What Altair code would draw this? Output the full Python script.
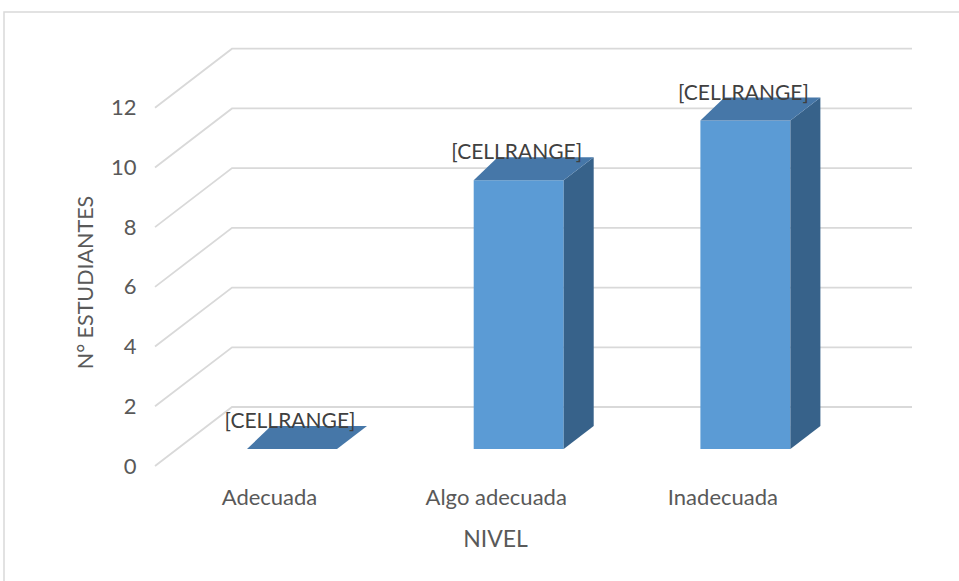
import json
import altair as alt
import pandas as pd

# ---------------- data ----------------
categories = ["Adecuada", "Algo adecuada", "Inadecuada"]
values = [0, 9, 11]
y_ticks = [0, 2, 4, 6, 8, 10, 12]
data_label = "[CELLRANGE]"
x_title = "NIVEL"
y_title = "N° ESTUDIANTES"

# ---------------- style / geometry ----------------
FONT = "Lato"
TXT = "#595959"
GRID = "#d9d9d9"
FRONT = "#5b9bd5"
TOP = "#4677a8"
SIDE = "#37628a"

W, H = 757, 418
PAD = {"left": 155, "top": 48, "right": 47, "bottom": 115}
Y_MAX = 14
PX_Y = H / Y_MAX            # pixels per value unit
PX_X = 226.7                # pixels per category step
X0 = -137 / PX_X            # left edge of the front plane (in category units)
X1 = X0 + W / PX_X
BACK_DX = 77 / PX_X         # depth offset of the back wall
BACK_DV = 59 / PX_Y
BAR_V0 = 17 / PX_Y          # bars stand a bit behind the front plane
HALF = 45 / PX_X
DEPTH_DV = 23 / PX_Y
DEPTH_DXL = 24 / PX_X
DEPTH_DXR = 30 / PX_X
LBL_DV = 27 / PX_Y
LBL_DX = -2 / PX_X

# ---------------- tables ----------------
grid_rows = []
for t in y_ticks:
    grid_rows += [
        {"g": t, "o": 0, "x": X0, "y": t},
        {"g": t, "o": 1, "x": X0 + BACK_DX, "y": t + BACK_DV},
        {"g": t, "o": 2, "x": X1, "y": t + BACK_DV},
    ]
grid_df = pd.DataFrame(grid_rows)

front_df = pd.DataFrame({
    "cat": categories,
    "x": [i - HALF for i in range(len(values))],
    "x2": [i + HALF for i in range(len(values))],
    "y": [BAR_V0] * len(values),
    "y2": [BAR_V0 + v for v in values],
})

side_rows, top_rows = [], []
for i, v in enumerate(values):
    side_rows += [
        {"b": i, "x": i + HALF, "y": BAR_V0, "y2": BAR_V0 + v},
        {"b": i, "x": i + HALF + DEPTH_DXR, "y": BAR_V0 + DEPTH_DV, "y2": BAR_V0 + v + DEPTH_DV},
    ]
    top_rows += [
        {"b": i, "y": BAR_V0 + v, "x": i - HALF, "x2": i + HALF},
        {"b": i, "y": BAR_V0 + v + DEPTH_DV, "x": i - HALF + DEPTH_DXL, "x2": i + HALF + DEPTH_DXR},
    ]
side_df = pd.DataFrame(side_rows)
top_df = pd.DataFrame(top_rows)

label_df = pd.DataFrame({
    "x": [i + LBL_DX for i in range(len(values))],
    "y": [BAR_V0 + v + LBL_DV for v in values],
    "t": [data_label] * len(values),
})

# ---------------- scales / axes ----------------
xs = alt.Scale(domain=[X0, X1], nice=False, zero=False)
ys = alt.Scale(domain=[0, Y_MAX], nice=False, zero=False)

x_axis = alt.Axis(
    values=[0, 1, 2],
    labelExpr=json.dumps(categories) + "[datum.value]",
    title=x_title, domain=False, ticks=False, grid=False,
    labelFont=FONT, labelFontSize=22, labelColor=TXT, labelPadding=31,
    labelBaseline="middle", labelOffset=-23, labelFlush=False, labelOverlap=False,
    titleFont=FONT, titleFontSize=23, titleColor=TXT, titleFontWeight="normal",
    titleX=340, titleY=73, titleBaseline="middle", titleAlign="center",
)
y_axis = alt.Axis(
    values=y_ticks, title=y_title, domain=False, ticks=False, grid=False,
    labelFont=FONT, labelFontSize=22, labelColor=TXT, labelPadding=19,
    labelFlush=False, labelOverlap=False,
    titleFont=FONT, titleFontSize=21.5, titleColor=TXT, titleFontWeight="normal",
    titleX=-69, titleY=234, titleBaseline="middle", titleAlign="center", titleAngle=-90,
)

def X(field="x"):
    return alt.X(f"{field}:Q", scale=xs, axis=x_axis)

def Y(field="y"):
    return alt.Y(f"{field}:Q", scale=ys, axis=y_axis)

frame = alt.Chart(pd.DataFrame({"a": [0]})).mark_rect(
    fill=None, stroke=GRID, strokeWidth=1.5
).encode(
    x=alt.value(4 - PAD["left"]), x2=alt.value(W + PAD["right"] + 20),
    y=alt.value(12 - PAD["top"]), y2=alt.value(H + PAD["bottom"] + 20),
)

grid = alt.Chart(grid_df).mark_line(color=GRID, strokeWidth=1.8).encode(
    x=X(), y=Y(), detail="g:N", order="o:Q"
)

front = alt.Chart(front_df).mark_rect(color=FRONT).encode(
    x=X(), x2="x2:Q", y=Y(), y2="y2:Q"
)

side = alt.Chart(side_df).mark_area(color=SIDE, orient="vertical").encode(
    x=X(), y=Y(), y2="y2:Q", detail="b:N"
)

top = alt.Chart(top_df).mark_area(color=TOP, orient="horizontal").encode(
    y=Y(), x=X(), x2="x2:Q", detail="b:N"
)

labels = alt.Chart(label_df).mark_text(
    font=FONT, fontSize=21, color="#404040", baseline="middle", align="center"
).encode(x=X(), y=Y(), text="t:N")

chart = alt.layer(frame, grid, front, side, top, labels).properties(
    width=W, height=H, padding=PAD, autosize="none", background="white"
).configure_view(stroke=None)

chart.save("out.html", embed_options={"renderer": "svg", "actions": False})
